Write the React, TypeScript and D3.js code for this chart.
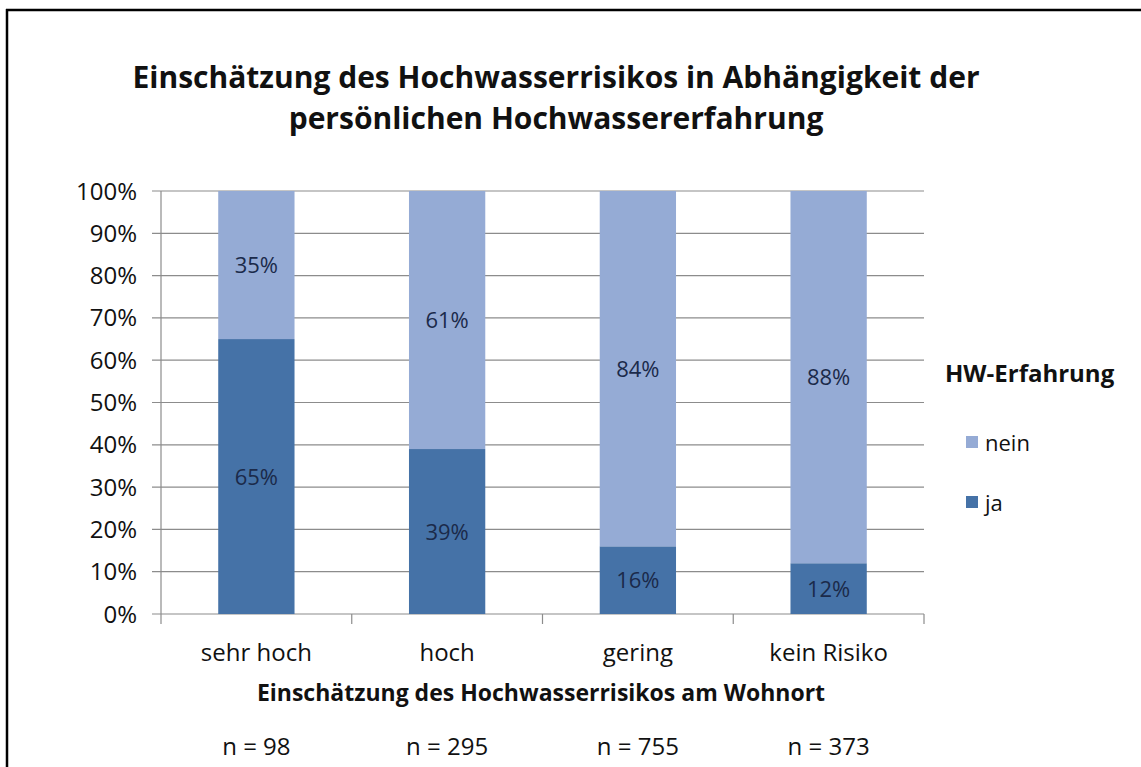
import React from 'react';
import * as d3 from 'd3';

const categories = ['sehr hoch', 'hoch', 'gering', 'kein Risiko'];
const ja = [65, 39, 16, 12];
const nein = [35, 61, 84, 88];
const counts = ['n = 98', 'n = 295', 'n = 755', 'n = 373'];
const yTicks = [0, 10, 20, 30, 40, 50, 60, 70, 80, 90, 100];
const seriesNames = ['ja', 'nein'];

const W = 1141;
const H = 767;
const font = '"Open Sans", Lato, sans-serif';
const colors: Record<string, string> = { ja: '#4572a7', nein: '#95abd5' };

const App = () => {
  const x = d3.scaleBand().domain(categories).range([161, 924]).paddingInner(0).paddingOuter(0);
  const y = d3.scaleLinear().domain([0, 100]).range([614, 191]);
  const barW = x.bandwidth() * 0.4;

  const rows = categories.map((c, i) => ({ cat: c, ja: ja[i], nein: nein[i] }));
  const stacked = d3.stack<any>().keys(seriesNames)(rows);

  return (
    <svg width={W} height={H} style={{ display: 'block', position: 'absolute', left: 0, top: 0, background: '#fff' }}>
      <rect x={0} y={0} width={W} height={H} fill="#fff" />
      {/* frame */}
      <line x1={7} x2={7} y1={9} y2={H} stroke="#000" strokeWidth={2.5} />
      <line x1={6} x2={W} y1={10} y2={10} stroke="#000" strokeWidth={2.5} />

      <text x={556} y={88} textAnchor="middle" fontFamily={font} fontWeight="bold" fontSize={30} fill="#111">
        Einschätzung des Hochwasserrisikos in Abhängigkeit der
      </text>
      <text x={556} y={129} textAnchor="middle" fontFamily={font} fontWeight="bold" fontSize={30} fill="#111">
        persönlichen Hochwassererfahrung
      </text>

      {/* gridlines and y ticks */}
      {yTicks.map(t => (
        <g key={t}>
          <line x1={152} x2={924} y1={y(t)} y2={y(t)} stroke="#8c8c8c" strokeWidth={1.2} />
          <text x={137} y={y(t) + 8.5} textAnchor="end" fontFamily={font} fontSize={24} fill="#111">{t}%</text>
        </g>
      ))}
      <line x1={161} x2={161} y1={191} y2={624} stroke="#8c8c8c" strokeWidth={1.2} />
      {categories.map((c, i) => (
        <line key={c} x1={(x(c) as number) + x.bandwidth()} x2={(x(c) as number) + x.bandwidth()} y1={614} y2={624} stroke="#8c8c8c" strokeWidth={1.2} />
      ))}

      {/* bars */}
      {stacked.map(s => (
        <g key={s.key}>
          {s.map((d, i) => {
            const cx = (x(categories[i]) as number) + x.bandwidth() / 2;
            return (
              <g key={i}>
                <rect x={cx - barW / 2} width={barW} y={y(d[1])} height={y(d[0]) - y(d[1])} fill={colors[s.key]} />
                <text x={cx} y={(y(d[0]) + y(d[1])) / 2 + 8} textAnchor="middle" fontFamily={font} fontSize={22} fill="#1b2a4a">
                  {d[1] - d[0]}%
                </text>
              </g>
            );
          })}
        </g>
      ))}

      {/* category labels */}
      {categories.map((c, i) => {
        const cx = (x(c) as number) + x.bandwidth() / 2;
        return (
          <g key={c}>
            <text x={cx} y={661} textAnchor="middle" fontFamily={font} fontSize={24} fill="#111">{c}</text>
            <text x={cx} y={755} textAnchor="middle" fontFamily={font} fontSize={24} fill="#111">{counts[i]}</text>
          </g>
        );
      })}
      <text x={541} y={701} textAnchor="middle" fontFamily={font} fontWeight="bold" fontSize={23} fill="#111">
        Einschätzung des Hochwasserrisikos am Wohnort
      </text>

      {/* legend */}
      <text x={945} y={382} fontFamily={font} fontWeight="bold" fontSize={24} fill="#111">HW-Erfahrung</text>
      {['nein', 'ja'].map((k, i) => (
        <g key={k}>
          <rect x={966} y={436 + i * 60} width={12} height={12} fill={colors[k]} />
          <text x={985} y={451 + i * 60} fontFamily={font} fontSize={22} fill="#111">{k}</text>
        </g>
      ))}
    </svg>
  );
};

export default App;
